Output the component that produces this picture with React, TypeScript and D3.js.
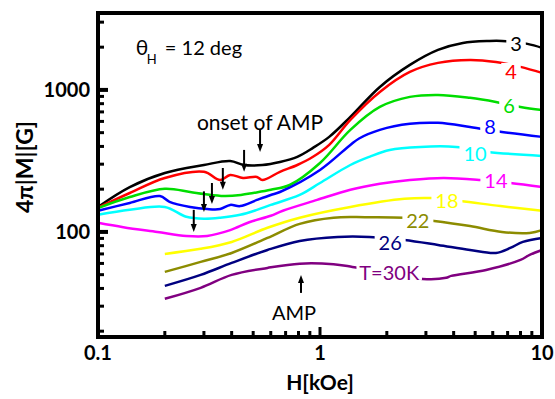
import React from "react";
import * as d3 from "d3";

// ---- data (H in kOe, 4π|M| in G) ----
const temps = ["3", "4", "6", "8", "10", "14", "18", "22", "26", "T=30K"];
const colors = ["#000000", "#ff0000", "#00dd00", "#0000ff", "#00ffff", "#ff00ff", "#ffff00", "#8c8c00", "#000080", "#800080"];

const t3: [number, number][] = [[0.1, 150], [0.139, 207], [0.2, 260], [0.3, 296], [0.394, 316], [0.455, 296], [0.55, 296], [0.66, 311], [0.79, 338], [0.93, 391], [1.1, 467], [1.37, 645], [1.86, 1049], [2.54, 1500], [3.4, 1914], [4.4, 2143], [5.8, 2213], [6.6, 2213], [8.6, 2109], [10, 1977]];
const t4: [number, number][] = [[0.1, 148], [0.139, 188], [0.2, 240], [0.3, 265], [0.355, 232], [0.394, 252], [0.45, 240], [0.52, 244], [0.55, 232], [0.66, 265], [0.79, 296], [0.93, 338], [1.1, 410], [1.37, 615], [1.86, 968], [2.54, 1339], [3.4, 1550], [4.74, 1625], [6.2, 1573], [8.0, 1452], [10, 1318]];
const t6: [number, number][] = [[0.1, 147], [0.139, 176], [0.2, 201], [0.26, 191], [0.3, 185], [0.37, 179], [0.44, 182], [0.5, 188], [0.6, 198], [0.73, 214], [1.0, 306], [1.37, 523], [1.86, 759], [2.54, 893], [3.4, 922], [4.74, 879], [6.2, 823], [8.0, 759], [10, 723]];
const t8: [number, number][] = [[0.1, 141], [0.139, 160], [0.19, 179], [0.21, 163], [0.26, 150], [0.31, 145], [0.355, 145], [0.394, 155], [0.437, 152], [0.52, 168], [0.6, 182], [0.66, 191], [1.0, 273], [1.37, 410], [1.5, 455], [1.86, 523], [2.54, 577], [3.4, 586], [4.74, 549], [6.6, 506], [10, 467]];
const t10: [number, number][] = [[0.1, 132], [0.139, 143], [0.2, 150], [0.25, 128], [0.3, 124], [0.355, 126], [0.437, 132], [0.52, 143], [0.6, 155], [0.81, 182], [1.0, 221], [1.37, 296], [1.67, 338], [2.06, 378], [2.83, 397], [4.1, 397], [5.7, 366], [10, 343]];
const t14: [number, number][] = [[0.1, 116], [0.13, 108], [0.185, 100], [0.25, 93.7], [0.31, 93.7], [0.394, 103], [0.48, 117], [0.6, 130], [0.68, 141], [0.97, 168], [1.37, 198], [1.86, 218], [2.54, 232], [3.6, 240], [5.3, 232], [7.2, 221], [10, 207]];
const t18: [number, number][] = [[0.2, 70], [0.29, 76], [0.4, 85], [0.58, 107], [0.81, 126], [1.37, 150], [2.4, 171], [3.2, 173], [4.3, 165], [6.5, 152], [10, 141]];
const t22: [number, number][] = [[0.2, 52.3], [0.29, 61.5], [0.4, 71.1], [0.58, 90.7], [0.81, 114], [1.15, 126], [1.6, 127], [2.4, 126], [3.2, 120], [4.74, 110], [6.6, 100], [8.8, 98.4], [10, 103]];
const t26: [number, number][] = [[0.2, 41.7], [0.29, 49.8], [0.4, 60.5], [0.58, 74.6], [0.81, 86.4], [1.2, 92.2], [1.67, 92.2], [2.4, 87.8], [3.4, 81.0], [4.74, 74.6], [6.2, 71.1], [7.2, 77.1], [8.2, 85.1], [10, 90.7]];
const t30: [number, number][] = [[0.2, 33.8], [0.29, 40.4], [0.4, 49.8], [0.58, 55.8], [0.81, 59.8], [1.15, 59.2], [1.4, 56.7], [2.0, 51.5], [2.9, 46.7], [3.7, 47.5], [3.9, 49], [5.6, 54.0], [8.0, 63.5], [8.8, 68.9], [10, 74.6]];
const series = [t3, t4, t6, t8, t10, t14, t18, t22, t26, t30];

// curve label anchor points (H, M)
const labelH = [7.64, 7.25, 7.1, 5.83, 4.99, 6.2, 3.73, 2.76, 2.07, 2.05];
const labelM = [2143, 1361, 784, 557, 360, 232, 168, 121.5, 85.1, 52.3];

// arrows: H position, start M, tip M
const arrowH = [0.537, 0.455, 0.365, 0.326, 0.3, 0.27, 0.821];
const arrowFrom = [523, 378, 282, 221, 193, 143, 37.2];
const arrowTo = [366, 265, 198, 157, 138, 100, 49.8];

const xTickLabels = ["0.1", "1", "10"];
const xTickValues = [0.1, 1, 10];
const yTickLabels = ["100", "1000"];
const yTickValues = [100, 1000];
const xMinor = [0.2, 0.3, 0.4, 0.5, 0.6, 0.7, 0.8, 0.9, 2, 3, 4, 5, 6, 7, 8, 9];
const yMinor = [20, 30, 40, 50, 60, 70, 80, 90, 200, 300, 400, 500, 600, 700, 800, 900, 2000, 3000];

const FONT = "Lato, 'DejaVu Sans', sans-serif";

export default function App() {
  const L = 98, R = 542, T = 13, B = 337;
  const x = d3.scaleLog().domain([0.1, 10]).range([L, R]);
  const y = d3.scaleLog().domain([18.2, 3480]).range([B, T]);
  const line = d3
    .line<[number, number]>()
    .x((d) => x(d[0]))
    .y((d) => y(d[1]))
    .curve(d3.curveCatmullRom.alpha(0.5));

  return (
    <svg width={555} height={399} style={{ position: "absolute", left: 0, top: 0, background: "#fff" }} fontFamily={FONT}>
      <rect x={0} y={0} width={555} height={399} fill="#fff" />
      {/* curves */}
      {series.map((s, i) => (
        <path key={i} d={line(s) || ""} fill="none" stroke={colors[i]} strokeWidth={2.5} strokeLinejoin="round" />
      ))}
      {/* curve labels */}
      {temps.map((t, i) => {
        const cx = x(labelH[i]);
        const cy = y(labelM[i]);
        const w = t.length * 11.5 + 8;
        return (
          <g key={t}>
            <rect x={cx - w / 2} y={cy - 8} width={w} height={16} fill="#fff" />
            <text x={cx} y={cy} textAnchor="middle" dominantBaseline="central" fontSize={20} fill={colors[i]}>
              {t}
            </text>
          </g>
        );
      })}
      {/* arrows */}
      {arrowH.map((h, i) => {
        const ax = x(h);
        const y0 = y(arrowFrom[i]);
        const y1 = y(arrowTo[i]);
        const dir = y1 > y0 ? 1 : -1;
        return (
          <g key={i}>
            <line x1={ax} x2={ax} y1={y0} y2={y1 - dir * 6} stroke="#000" strokeWidth={2} />
            <path d={`M${ax - 3},${y1 - dir * 8} L${ax + 3},${y1 - dir * 8} L${ax},${y1} Z`} fill="#000" />
          </g>
        );
      })}
      {/* annotations */}
      <text x={x(0.148)} y={y(1763)} fontSize={21} fill="#000">θ</text>
      <text x={x(0.166)} y={y(1525)} fontSize={13} fill="#000">H</text>
      <text x={x(0.2)} y={y(1763)} fontSize={20} fill="#000">= 12 deg</text>
      <text x={x(0.537)} y={y(523)} fontSize={21} textAnchor="middle" fill="#000">onset of AMP</text>
      <text x={x(0.764)} y={y(24)} fontSize={20} textAnchor="middle" fill="#000">AMP</text>

      {/* ticks */}
      {xMinor.map((v) => (
        <line key={"xm" + v} x1={x(v)} x2={x(v)} y1={B} y2={B - 6} stroke="#000" strokeWidth={3} />
      ))}
      {xTickValues.map((v) => (
        <line key={"xM" + v} x1={x(v)} x2={x(v)} y1={B} y2={B - 10} stroke="#000" strokeWidth={3} />
      ))}
      {yMinor.map((v) => (
        <line key={"ym" + v} x1={L} x2={L + 6} y1={y(v)} y2={y(v)} stroke="#000" strokeWidth={3} />
      ))}
      {yTickValues.map((v) => (
        <line key={"yM" + v} x1={L} x2={L + 10} y1={y(v)} y2={y(v)} stroke="#000" strokeWidth={4} />
      ))}
      {/* frame */}
      <rect x={L} y={T} width={R - L} height={B - T} fill="none" stroke="#000" strokeWidth={4} />

      {/* tick labels */}
      {xTickValues.map((v, i) => (
        <text key={"xl" + v} x={x(v)} y={360} textAnchor="middle" fontSize={20} fontWeight="bold" fill="#000">
          {xTickLabels[i]}
        </text>
      ))}
      {yTickValues.map((v, i) => (
        <text key={"yl" + v} x={90} y={y(v) + 7} textAnchor="end" fontSize={20} fontWeight="bold" fill="#000">
          {yTickLabels[i]}
        </text>
      ))}
      {/* axis titles */}
      <text x={320} y={390} textAnchor="middle" fontSize={21} fontWeight="bold" fill="#000">H[kOe]</text>
      <text transform="translate(33,167) rotate(-90)" textAnchor="middle" fontSize={23} fontWeight="bold" fill="#000">4π|M|[G]</text>
    </svg>
  );
}
